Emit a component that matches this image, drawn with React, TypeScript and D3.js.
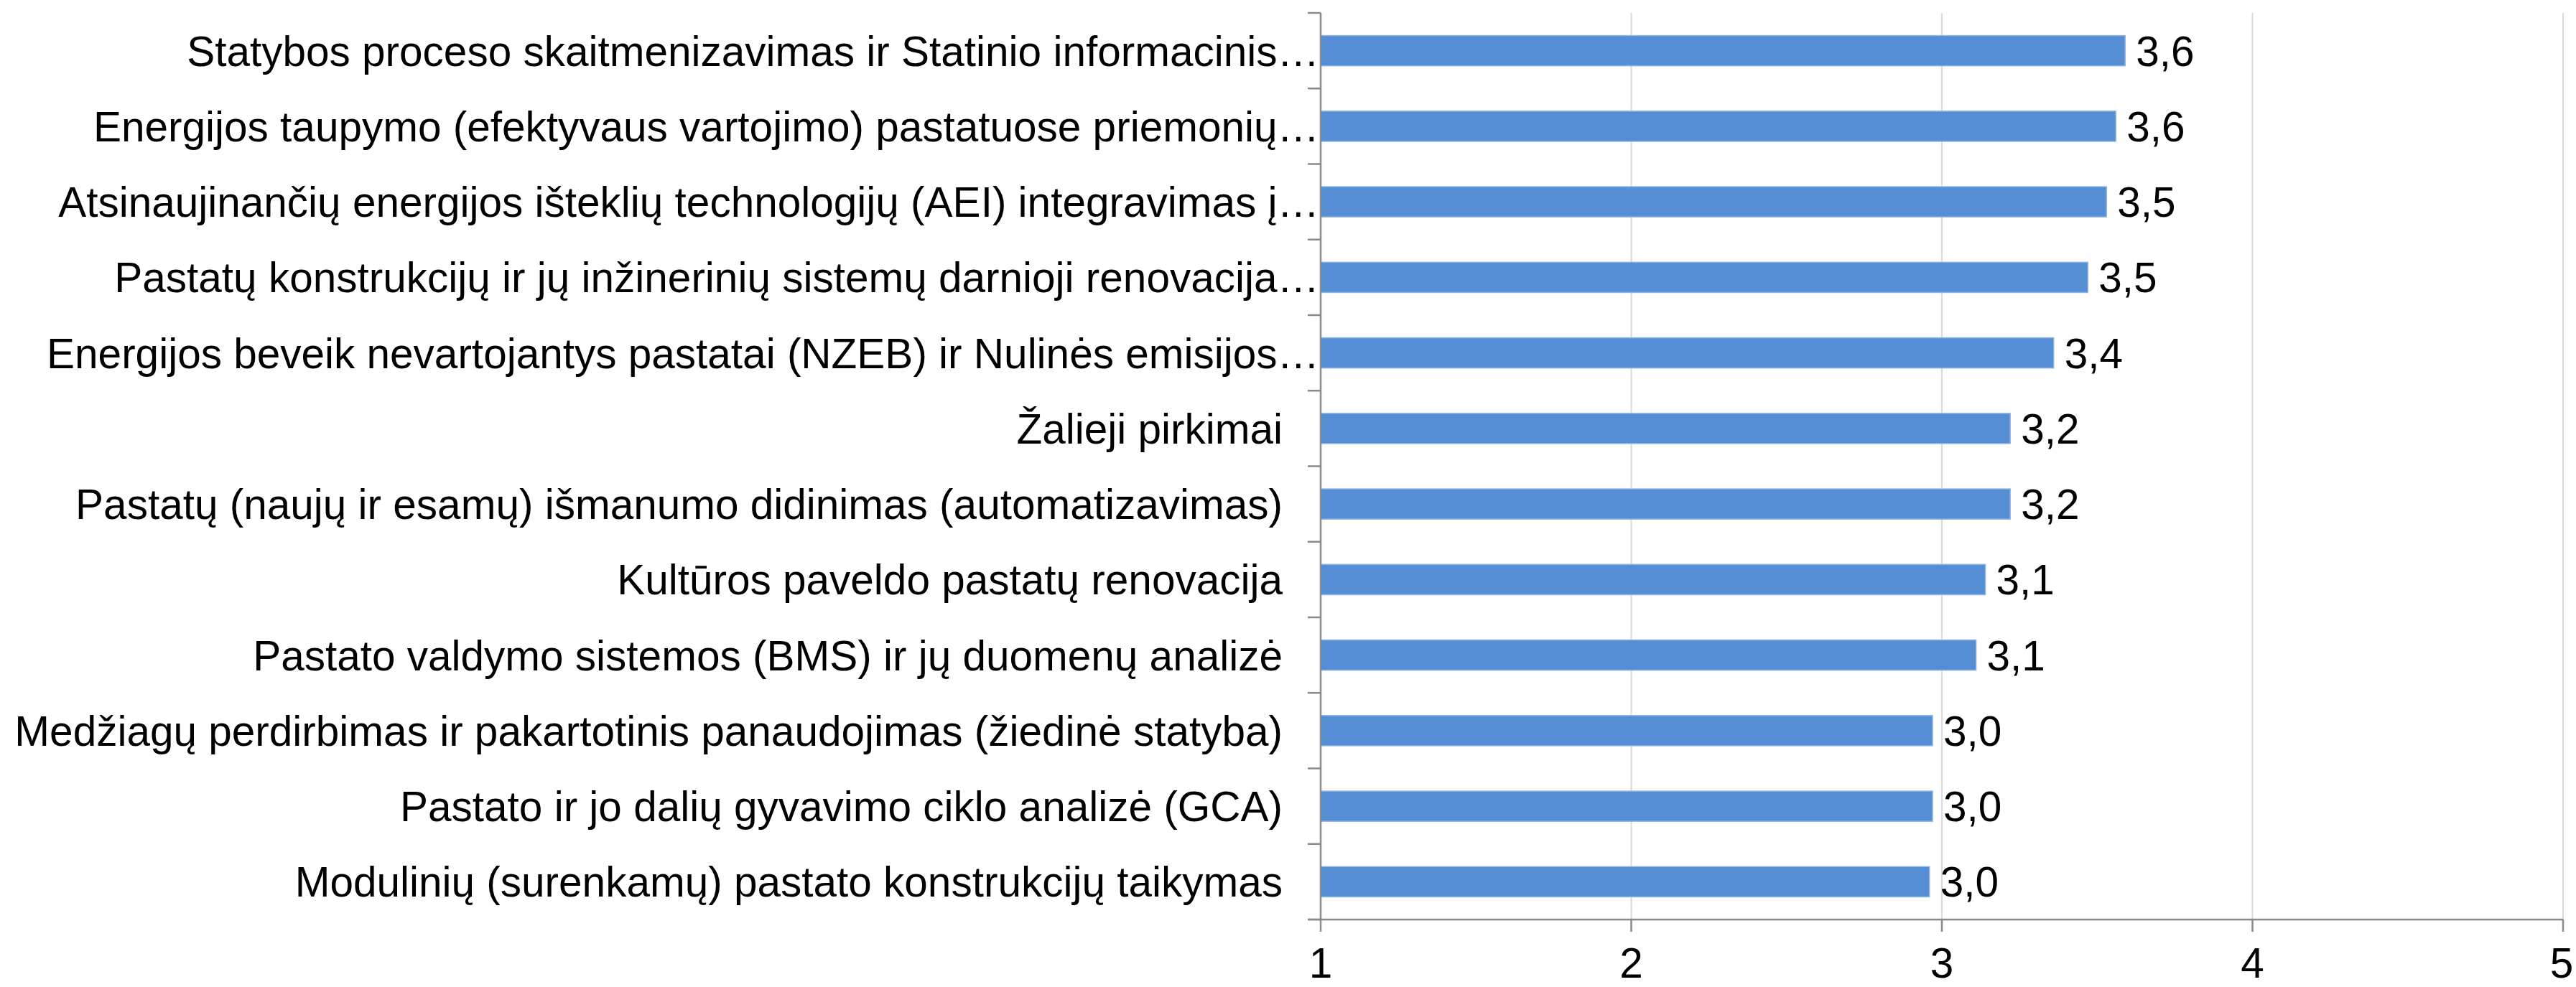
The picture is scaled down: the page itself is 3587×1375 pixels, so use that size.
import * as d3 from 'd3'

const categories = [
  'Statybos proceso skaitmenizavimas ir Statinio informacinis…',
  'Energijos taupymo (efektyvaus vartojimo) pastatuose priemonių…',
  'Atsinaujinančių energijos išteklių technologijų (AEI) integravimas į…',
  'Pastatų konstrukcijų ir jų inžinerinių sistemų darnioji renovacija…',
  'Energijos beveik nevartojantys pastatai (NZEB) ir Nulinės emisijos…',
  'Žalieji pirkimai',
  'Pastatų (naujų ir esamų) išmanumo didinimas (automatizavimas)',
  'Kultūros paveldo pastatų renovacija',
  'Pastato valdymo sistemos (BMS) ir jų duomenų analizė',
  'Medžiagų perdirbimas ir pakartotinis panaudojimas (žiedinė statyba)',
  'Pastato ir jo dalių gyvavimo ciklo analizė (GCA)',
  'Modulinių (surenkamų) pastato konstrukcijų taikymas',
]

const values = [3.59, 3.56, 3.53, 3.47, 3.36, 3.22, 3.22, 3.14, 3.11, 2.97, 2.97, 2.96]

const xTicks = [1, 2, 3, 4, 5]

const W = 3587
const H = 1375
const FONT = '"Liberation Sans", Arial, sans-serif'
const FS = 58.5

export default function App() {
  const left = 1839
  const right = 3569
  const top = 18
  const bottom = 1281

  const x = d3.scaleLinear().domain([1, 5]).range([left, right])
  const y = d3.scaleBand<string>()
    .domain(categories)
    .range([top, bottom])
    .paddingInner(0.6)
    .paddingOuter(0.3)

  // category boundaries for the y ticks
  const boundaries = d3.range(categories.length + 1).map(i => top + i * y.step())
  const fmt = (v: number) => v.toFixed(1).replace('.', ',')

  return (
    <svg width={W} height={H} style={{ position: 'absolute', left: 0, top: 0, background: '#fff' }}
      fontFamily={FONT}>
      {/* gridlines */}
      {xTicks.slice(1).map(t => (
        <line key={'g' + t} x1={x(t)} x2={x(t)} y1={top} y2={bottom} stroke="#d9d9d9" strokeWidth={2} />
      ))}

      {/* bars */}
      {categories.map((c, i) => (
        <rect key={c} x={x(1)} y={y(c)} width={x(values[i]) - x(1)} height={y.bandwidth()}
          fill="#558ed5" stroke="#8eb4e3" strokeWidth={1.5} />
      ))}

      {/* value labels */}
      {categories.map((c, i) => (
        <text key={'v' + c} x={x(values[i]) + 15} y={y(c)! + y.bandwidth() / 2} dy="0.36em"
          fontSize={FS} fill="#000">{fmt(values[i])}</text>
      ))}

      {/* y axis */}
      <line x1={left} x2={left} y1={top} y2={bottom} stroke="#898989" strokeWidth={2.5} />
      {boundaries.map((b, i) => (
        <line key={'yt' + i} x1={left - 18} x2={left} y1={b} y2={b} stroke="#898989" strokeWidth={2.5} />
      ))}

      {/* category labels (truncated ones run up to the axis, like Excel) */}
      {categories.map(c => (
        <text key={'l' + c} x={c.endsWith('…') ? left - 2 : left - 53} y={y(c)! + y.bandwidth() / 2}
          dy="0.36em" textAnchor="end" fontSize={FS} fill="#000">{c}</text>
      ))}

      {/* x axis */}
      <line x1={left - 18} x2={right} y1={bottom} y2={bottom} stroke="#898989" strokeWidth={2.5} />
      {xTicks.map(t => (
        <g key={'xt' + t}>
          <line x1={x(t)} x2={x(t)} y1={bottom} y2={bottom + 17} stroke="#898989" strokeWidth={2.5} />
          <text x={Math.min(x(t), W - 20)} y={1362} textAnchor="middle" fontSize={FS} fill="#000">{t}</text>
        </g>
      ))}
    </svg>
  )
}
